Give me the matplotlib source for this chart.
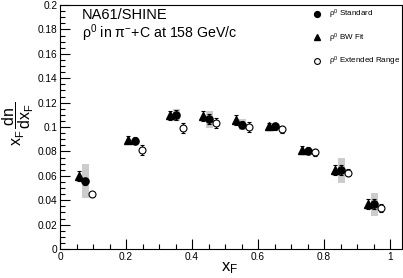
import numpy as np
import matplotlib
matplotlib.use("Agg")
import matplotlib.pyplot as plt
from matplotlib.patches import Rectangle
from matplotlib.lines import Line2D
from matplotlib.ticker import MultipleLocator

# ==========================================
# RHO0 SPECTRA IN PI- + C AT 158 GeV/c
# ==========================================

plt.rcParams['font.family'] = ['Liberation Sans', 'DejaVu Sans']
plt.rcParams['mathtext.fontset'] = 'custom'
plt.rcParams['mathtext.rm'] = 'Liberation Sans'
plt.rcParams['mathtext.it'] = 'Liberation Sans'
plt.rcParams['mathtext.default'] = 'regular'

# Standard (filled circles) with systematic boxes
x_std = [0.077, 0.228, 0.352, 0.452, 0.552, 0.652, 0.752, 0.852, 0.952]
y_std = [0.0555, 0.0888, 0.1100, 0.1063, 0.1020, 0.1005, 0.0805, 0.0645, 0.0367]
e_std = [0.003, 0.003, 0.004, 0.004, 0.003, 0.003, 0.003, 0.004, 0.004]
sys_std = [0.0138, 0.002, 0.005, 0.0068, 0.0048, 0.002, 0.002, 0.0104, 0.0093]

# BW Fit (triangles)
x_bw = [0.057, 0.207, 0.332, 0.432, 0.532, 0.632, 0.732, 0.832, 0.932]
y_bw = [0.0600, 0.0895, 0.1095, 0.1090, 0.1060, 0.1005, 0.0812, 0.0645, 0.0370]
e_bw = [0.004, 0.003, 0.004, 0.004, 0.004, 0.003, 0.003, 0.004, 0.004]

# Extended Range (open circles)
x_ext = [0.097, 0.247, 0.372, 0.472, 0.572, 0.672, 0.772, 0.872, 0.972]
y_ext = [0.0450, 0.0812, 0.0990, 0.1035, 0.0997, 0.0982, 0.0793, 0.0625, 0.0337]
e_ext = [0.002, 0.004, 0.004, 0.004, 0.004, 0.003, 0.003, 0.003, 0.003]

labels = [r'$\rho^{0}$ Standard', r'$\rho^{0}$ BW Fit', r'$\rho^{0}$ Extended Range']

box_halfwidth = 0.01

fig = plt.figure(figsize=(4.03, 2.78), dpi=100)
ax = fig.add_axes([60/403, 29/278, 342/403, 244/278])

# systematic boxes
for xi, yi, si in zip(x_std, y_std, sys_std):
    ax.add_patch(Rectangle((xi - box_halfwidth, yi - si), 2*box_halfwidth, 2*si,
                           facecolor='#cccccc', edgecolor='none', zorder=1))

ax.errorbar(x_std, y_std, yerr=e_std, fmt='o', color='black', ms=5.2,
            elinewidth=0.8, capsize=1.2, capthick=0.8, zorder=3)
ax.errorbar(x_bw, y_bw, yerr=e_bw, fmt='^', color='black', ms=5.2,
            elinewidth=0.8, capsize=1.2, capthick=0.8, zorder=3)
ax.errorbar(x_ext, y_ext, yerr=e_ext, fmt='o', color='black', mfc='white',
            ms=5.0, mew=0.8, elinewidth=0.8, capsize=1.2, capthick=0.8,
            zorder=3)

ax.set_xlim(0, 1.036)
ax.set_ylim(0, 0.2)

ax.xaxis.set_major_locator(MultipleLocator(0.2))
ax.xaxis.set_minor_locator(MultipleLocator(0.05))
ax.yaxis.set_major_locator(MultipleLocator(0.02))
ax.yaxis.set_minor_locator(MultipleLocator(0.005))
ax.xaxis.set_major_formatter(plt.FuncFormatter(lambda v, p: ('%g' % round(v, 3))))
ax.yaxis.set_major_formatter(plt.FuncFormatter(lambda v, p: ('%g' % round(v, 3))))

ax.tick_params(which='both', direction='in', top=False, right=False,
               labelsize=7.3, width=0.8, pad=2)
ax.tick_params(which='major', length=7)
ax.tick_params(which='minor', length=3.5)
for s in ax.spines.values():
    s.set_linewidth(0.8)

# titles
fig.text(82/403, 1 - 15/278, 'NA61/SHINE', fontsize=10.5, va='center', ha='left')
fig.text(82/403, 1 - 33/278, r'$\rho^{0}$ in $\pi^{-}$+C at 158 GeV/c',
         fontsize=10.2, va='center', ha='left')

# axis titles
fig.text(230/403, 1 - 268/278, r'$x_{F}$', fontsize=12, ha='center', va='center')
fig.text(18/403, 1 - 124/278, r'$x_{F}\,\dfrac{dn}{dx_{F}}$', fontsize=11.5,
         rotation=90, ha='center', va='center')

# legend (markers only, like ROOT "p" option)
handles = [
    Line2D([], [], ls='none', marker='o', color='black', ms=4.2),
    Line2D([], [], ls='none', marker='^', color='black', ms=4.2),
    Line2D([], [], ls='none', marker='o', color='black', mfc='white', ms=4.2, mew=0.8),
]
leg = ax.legend(handles, labels, loc='upper left',
                bbox_to_anchor=(313.6/403, 1 - 8/278), bbox_transform=fig.transFigure,
                frameon=False, fontsize=5.8, handlelength=0.8, handletextpad=1.05,
                labelspacing=1.25, borderpad=0, borderaxespad=0)

plt.savefig("out.png", dpi=100)
